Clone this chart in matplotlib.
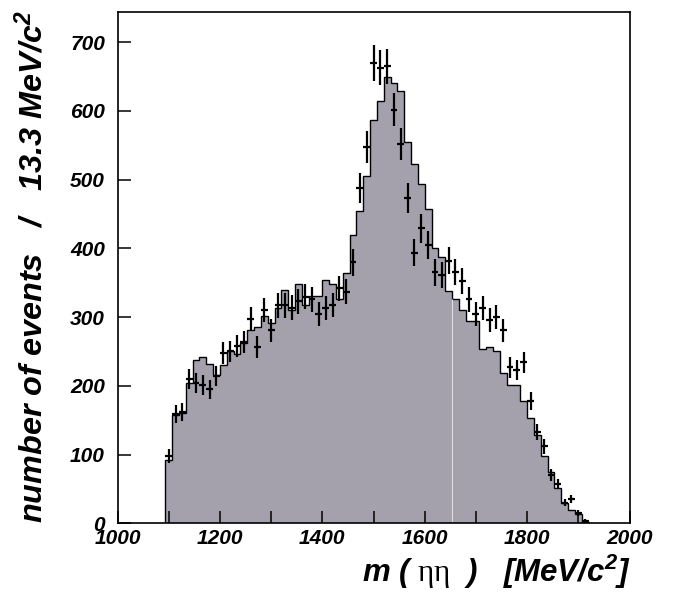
import numpy as np
import matplotlib
matplotlib.use("Agg")
import matplotlib.pyplot as plt
from matplotlib import ticker

# binning: 13.3 MeV/c^2 bins, filled region 1093 - 1920
bin_width = 40.0 / 3.0
first_edge = 1000.0 + 7 * bin_width

# fitted / MC histogram (filled)
hist_counts = [92, 157, 160, 204, 237, 242, 232, 216, 231, 250,
               246, 263, 282, 286, 302, 291, 313, 339, 311, 348,
               318, 331, 331, 354, 348, 326, 364, 419, 455, 506,
               587, 615, 650, 640, 629, 555, 523, 494, 458, 400,
               388, 338, 326, 310, 295, 295, 253, 257, 250, 219,
               201, 201, 178, 153, 129, 98, 74, 51, 30, 20,
               14, 2]

# data points
data_counts = [98, 159, 162, 210, 204, 201, 195, 214, 248, 250,
               258, 264, 297, 257, 310, 281, 317, 317, 314, 323,
               330, 326, 305, 313, 318, 342, 337, 380, 488, 548,
               670, 663, 665, 602, 552, 473, 394, 429, 405, 365,
               361, 382, 366, 353, 326, 305, 313, 296, 300, 281,
               227, 223, 234, 178, 133, 112, 70, 57, 30, 35,
               15, 4]

x_major = [1000, 1200, 1400, 1600, 1800, 2000]
y_major = [0, 100, 200, 300, 400, 500, 600, 700]

hist_counts = np.array(hist_counts, dtype=float)
data_counts = np.array(data_counts, dtype=float)
edges = first_edge + bin_width * np.arange(len(hist_counts) + 1)
centers = 0.5 * (edges[:-1] + edges[1:])

fill_color = '#a4a1ad'
font = dict(family='Liberation Sans', weight='bold', style='italic')

plt.rcParams['mathtext.fontset'] = 'custom'
plt.rcParams['mathtext.rm'] = 'Liberation Serif'
plt.rcParams['mathtext.bf'] = 'Liberation Sans:bold:italic'
plt.rcParams['mathtext.it'] = 'Liberation Sans:bold:italic'

fig = plt.figure(figsize=(6.74, 5.97), dpi=100)
ax = fig.add_axes([117.5 / 674, (597 - 523.3) / 597,
                   (629.5 - 117.5) / 674, (523.3 - 12) / 597])

# histogram
ax.stairs(hist_counts, edges, fill=True, color=fill_color, lw=0)
ax.stairs(hist_counts, edges, baseline=0, color='black', lw=1.0)
# faint seam inside the fill
k = 42
ax.vlines(edges[k], 0, min(hist_counts[k - 1], hist_counts[k]),
          color='#dcdae0', lw=0.8)

# data with errors
ax.errorbar(centers, data_counts, yerr=np.sqrt(data_counts),
            xerr=bin_width / 2, fmt='none', ecolor='black',
            elinewidth=1.6, capsize=0)

ax.set_xlim(1000, 2000)
ax.set_ylim(0, 744)

ax.xaxis.set_major_locator(ticker.FixedLocator(x_major))
ax.xaxis.set_minor_locator(ticker.MultipleLocator(100))
ax.yaxis.set_major_locator(ticker.FixedLocator(y_major))

ax.tick_params(which='both', direction='in', length=9, width=1.1,
               top=False, right=False)
ax.tick_params(axis='x', pad=4)
ax.tick_params(axis='y', pad=9)

for lab in ax.get_xticklabels() + ax.get_yticklabels():
    lab.set_fontfamily('Liberation Sans')
    lab.set_fontweight('bold')
    lab.set_fontstyle('italic')
    lab.set_fontsize(15)

for sp in ax.spines.values():
    sp.set_linewidth(1.2)

fig.text(630 / 674, 15.3 / 597,
         r'm ( $\mathrm{\eta\eta}\;$ )   [MeV/c$^{\mathbf{2}}$]',
         ha='right', va='baseline', fontsize=22.5, **font)
fig.text(33 / 674, 1 - 10 / 597,
         r'number of events   /   13.3 MeV/c$^{\mathbf{2}}$',
         rotation=90, ha='center', va='top', fontsize=23.3, **font)

fig.savefig('out.png', dpi=100)
